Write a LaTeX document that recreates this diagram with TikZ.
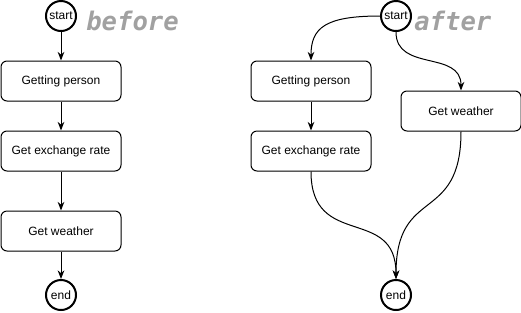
\documentclass[tikz,border=0pt]{standalone}
\usepackage{fontspec}
\setmainfont{Liberation Sans}
\newfontfamily\monobi{DejaVu Sans Mono}
\usetikzlibrary{arrows.meta}
\begin{document}
\begin{tikzpicture}[x=0.75pt,y=-0.75pt,
  proc/.style={draw=black,line width=0.75pt,rounded corners=4.5pt,minimum width=90pt,minimum height=30pt,inner sep=0pt,font=\fontsize{9}{11}\selectfont,fill=white},
  term/.style={draw=black,line width=1.5pt,circle,minimum size=22.5pt,inner sep=0pt,font=\fontsize{9}{11}\selectfont,fill=white},
  tag/.style={text=black!37,font=\monobi\bfseries\itshape\fontsize{19.2}{21}\selectfont,anchor=west,inner sep=0pt},
  conn/.style={draw=black,line width=0.75pt,-{Stealth[length=6.5pt,width=5pt]}}]
\useasboundingbox (0,0) rectangle (521,312);
% before
\node[term] (s1) at (61,16) {start};
\node[tag] (tb) at (86,21) {before};
\node[proc] (p1) at (61,81) {Getting person};
\node[proc] (e1) at (61,151) {Get exchange rate};
\node[proc] (w1) at (61,231) {Get weather};
\node[term] (n1) at (61,295) {end};
\draw[conn] (s1) -- (p1);
\draw[conn] (p1) -- (e1);
\draw[conn] (e1) -- (w1);
\draw[conn] (w1) -- (n1);
% after
\node[term] (s2) at (396,16) {start};
\node[tag] (ta) at (414,21) {after};
\node[proc] (p2) at (311,81) {Getting person};
\node[proc] (e2) at (311,151) {Get exchange rate};
\node[proc] (w2) at (461,111) {Get weather};
\node[term] (n2) at (396,295) {end};
\draw[conn] (s2.west) .. controls (325,16) and (311,28) .. (p2.north);
\draw[conn] (s2.south) .. controls (396,72) and (461,50) .. (w2.north);
\draw[conn] (p2) -- (e2);
\draw[conn] (e2.south) .. controls (311,250) and (396,205) .. (n2.north);
\draw[conn] (w2.south) .. controls (461,225) and (396,185) .. (n2.north);
\end{tikzpicture}
\end{document}
